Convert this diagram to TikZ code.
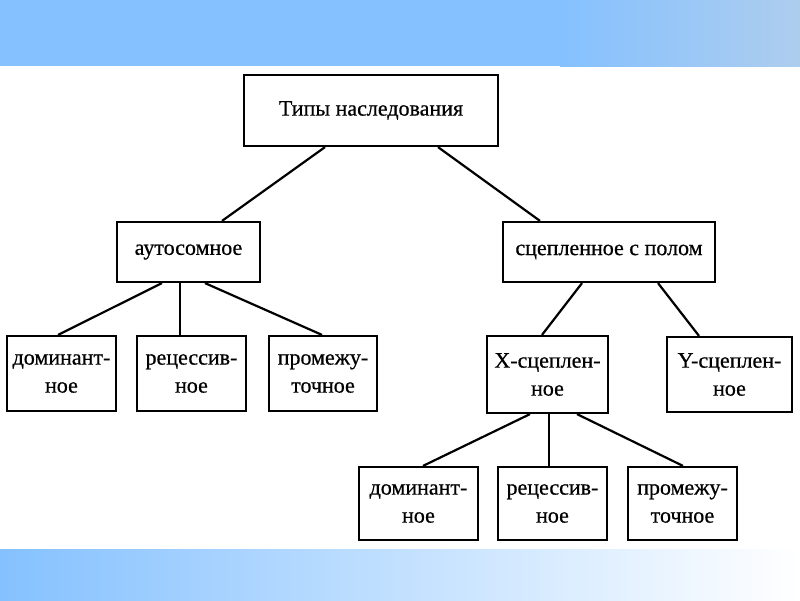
\documentclass[tikz,border=0pt]{standalone}
\usepackage{fontspec}
\setmainfont{Liberation Serif}
\newfontfamily\scanfont{Liberation Serif}[FakeBold=0.6]
\usepackage{tikz}
\usetikzlibrary{positioning,calc}
\definecolor{bandblue}{HTML}{85C1FF}
\definecolor{bandpale}{HTML}{ADCDEE}
\definecolor{bandmid}{HTML}{C9D8EC}
\tikzset{
  tbox/.style={draw,line width=2.2pt,align=center,inner sep=0pt,
    font=\scanfont\fontsize{22}{28}\selectfont},
  link/.style={line width=2.2pt}
}
\newcommand{\typebox}[4]{
  \node[tbox,#3] (#1) at #2 {#4};
}

\begin{document}
\begin{tikzpicture}[x=1pt,y=-1pt]
  \useasboundingbox (0,0) rectangle (800,600);
  % bands
  \fill[bandblue] (0,0) rectangle (800,66);
  \shade[left color=bandblue,right color=bandpale] (560,0) rectangle (800,66);
  \shade[left color=bandblue,middle color=bandmid,right color=white] (0,549) rectangle (800,600);
  % boxes
  \typebox{root}{(371,110.5)}{minimum width=254pt,minimum height=71pt}{Типы наследования}
  \typebox{auto}{(188.5,252)}{minimum width=143pt,minimum height=60pt}{аутосомное}
  \typebox{sex}{(609,252)}{minimum width=212pt,minimum height=60pt}{сцепленное с полом}
  \typebox{domA}{(61.5,373.5)}{minimum width=109pt,minimum height=75pt}{доминант-\\ное}
  \typebox{recA}{(191.5,373.5)}{minimum width=109pt,minimum height=75pt}{рецессив-\\ное}
  \typebox{intA}{(323,373.5)}{minimum width=108pt,minimum height=75pt}{промежу-\\точное}
  \typebox{xlink}{(547.5,374.5)}{minimum width=121pt,minimum height=77pt}{X-сцеплен-\\ное}
  \typebox{ylink}{(729.5,374.5)}{minimum width=125pt,minimum height=75pt}{Y-сцеплен-\\ное}
  \typebox{domX}{(418.5,503.5)}{minimum width=119pt,minimum height=73pt}{доминант-\\ное}
  \typebox{recX}{(552.5,503.5)}{minimum width=109pt,minimum height=73pt}{рецессив-\\ное}
  \typebox{intX}{(682.5,503.5)}{minimum width=109pt,minimum height=73pt}{промежу-\\точное}
  % links
  \draw[link] ([xshift=-46pt]root.south) -- ([xshift=33.5pt]auto.north);
  \draw[link] ([xshift=67pt]root.south) -- ([xshift=-69pt]sex.north);
  \draw[link] ([xshift=-26.5pt]auto.south) -- ([xshift=-3.5pt]domA.north);
  \draw[link] ([xshift=-8.5pt]auto.south) -- ([xshift=-11.5pt]recA.north);
  \draw[link] ([xshift=16.5pt]auto.south) -- ([xshift=-1pt]intA.north);
  \draw[link] ([xshift=-27pt]sex.south) -- ([xshift=-5.5pt]xlink.north);
  \draw[link] ([xshift=49pt]sex.south) -- ([xshift=-30.5pt]ylink.north);
  \draw[link] ([xshift=-17.5pt]xlink.south) -- ([xshift=4.5pt]domX.north);
  \draw[link] ([xshift=1.5pt]xlink.south) -- ([xshift=-3.5pt]recX.north);
  \draw[link] ([xshift=29.5pt]xlink.south) -- ([xshift=0.5pt]intX.north);
\end{tikzpicture}
\end{document}
